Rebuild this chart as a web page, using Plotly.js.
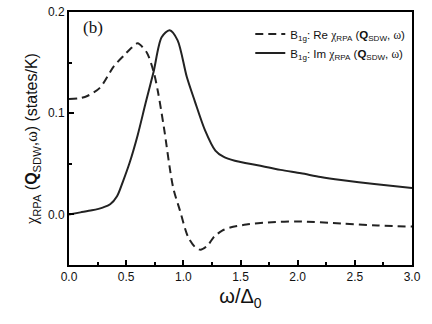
<!DOCTYPE html>
<html>
<head>
<meta charset="utf-8">
<script src="https://cdn.plot.ly/plotly-3.0.1.min.js"></script>
<style>
  html, body { margin: 0; padding: 0; background: #fff; }
  #chart { width: 432px; height: 324px; }
</style>
</head>
<body>
<div id="chart"></div>
<script>
// omega / Delta_0 and the two B1g curves
const omegaIm = [0, 0.1, 0.2, 0.3, 0.36, 0.42, 0.47, 0.53, 0.6, 0.67, 0.74, 0.81, 0.88, 0.95, 1.03, 1.1, 1.19, 1.28, 1.35, 1.45, 1.65, 1.85, 2.03, 2.2, 2.38, 2.67, 3.0];
const imChi   = [0, 0.002, 0.004, 0.007, 0.010, 0.018, 0.032, 0.051, 0.078, 0.110, 0.141, 0.175, 0.182, 0.172, 0.136, 0.112, 0.083, 0.063, 0.057, 0.053, 0.0485, 0.044, 0.0406, 0.037, 0.034, 0.030, 0.026];

const omegaRe = [0, 0.1, 0.16, 0.27, 0.39, 0.48, 0.55, 0.6, 0.68, 0.74, 0.78, 0.83, 0.91, 0.97, 1.04, 1.1, 1.15, 1.21, 1.27, 1.34, 1.41, 1.55, 1.74, 2.0, 2.38, 2.7, 3.0];
const reChi   = [0.114, 0.115, 0.117, 0.125, 0.146, 0.157, 0.165, 0.169, 0.160, 0.141, 0.12, 0.086, 0.027, 0.004, -0.022, -0.032, -0.035, -0.031, -0.022, -0.016, -0.013, -0.010, -0.008, -0.007, -0.009, -0.011, -0.012];

const serif = s => '<span style="font-family:\'Liberation Serif\',serif">' + s + '</span>';
const chiLeg = serif('χ') + '<sub>RPA</sub> (<b>Q</b><sub>SDW</sub>, ' + serif('ω') + ')';
const chiAxis = serif('χ') + '<sub>RPA</sub> (<b>Q</b><sub>SDW</sub>,' + serif('ω') + ')';

const traceRe = {
  x: omegaRe, y: reChi, type: 'scatter', mode: 'lines',
  name: 'B<sub>1g</sub>: Re ' + chiLeg,
  line: { color: '#222', width: 2, dash: '8px,5px', shape: 'spline', smoothing: 0.8 }
};
const traceIm = {
  x: omegaIm, y: imChi, type: 'scatter', mode: 'lines',
  name: 'B<sub>1g</sub>: Im ' + chiLeg,
  line: { color: '#222', width: 2, shape: 'spline', smoothing: 0.8 }
};

const axisCommon = {
  showgrid: false, zeroline: false,
  showline: true, mirror: true, linecolor: '#000', linewidth: 2,
  ticks: 'inside', ticklen: 5, tickwidth: 2, tickcolor: '#000',
  tickfont: { family: 'Liberation Sans, Arial, sans-serif', size: 12, color: '#111' },
  tickformat: '.1f'
};

const layout = {
  width: 432, height: 324,
  margin: { l: 69, r: 20, t: 12, b: 59 },
  paper_bgcolor: '#fff', plot_bgcolor: '#fff',
  showlegend: true,
  legend: {
    x: 0.995, xanchor: 'right', y: 0.97, yanchor: 'top',
    bgcolor: 'rgba(0,0,0,0)', borderwidth: 0,
    font: { family: 'Liberation Sans, Arial, sans-serif', size: 11.5, color: '#111' },
    tracegroupgap: 0, itemwidth: 30
  },
  xaxis: Object.assign({}, axisCommon, {
    range: [0, 3], dtick: 0.5, tick0: 0,
    minor: { dtick: 0.25, ticks: 'inside', ticklen: 3, tickwidth: 2, tickcolor: '#000' },
    title: { text: 'ω/Δ<sub>0</sub>', font: { family: 'Liberation Sans, Arial, sans-serif', size: 20, color: '#111' }, standoff: 6 }
  }),
  yaxis: Object.assign({}, axisCommon, {
    range: [-0.05, 0.2], dtick: 0.1, tick0: 0,
    minor: { dtick: 0.05, ticks: 'inside', ticklen: 3, tickwidth: 2, tickcolor: '#000' },
    title: { text: chiAxis + ' (states/K)', font: { family: 'Liberation Sans, Arial, sans-serif', size: 16, color: '#111' }, standoff: 6 }
  }),
  annotations: [{
    text: '(b)', xref: 'paper', yref: 'paper', x: 0.035, y: 0.985,
    xanchor: 'left', yanchor: 'top', showarrow: false,
    font: { family: 'Liberation Serif, Times New Roman, serif', size: 17, color: '#111' }
  }]
};

Plotly.newPlot('chart', [traceRe, traceIm], layout, { displayModeBar: false, staticPlot: true });
</script>
</body>
</html>
